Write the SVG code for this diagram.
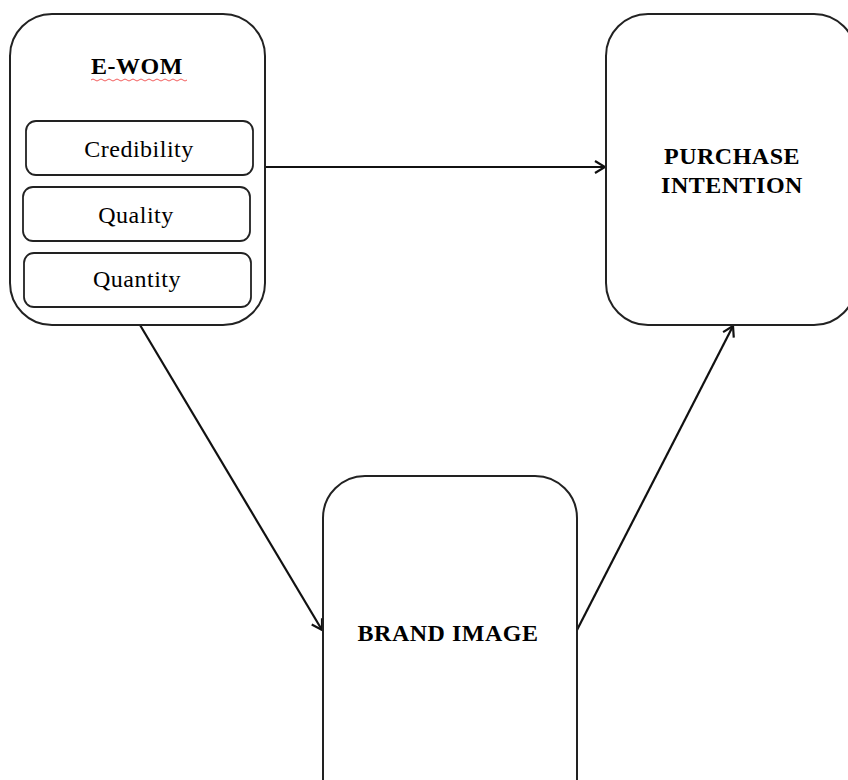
<svg xmlns="http://www.w3.org/2000/svg" width="848" height="780" viewBox="0 0 848 780">
<style>
.box{fill:#fff;stroke:#222;stroke-width:2}
.sub{fill:#fff;stroke:#222;stroke-width:1.8}
.t{font-family:"Liberation Serif","Times New Roman",serif;fill:#000;text-anchor:middle}
.b{font-weight:bold;font-size:24px;letter-spacing:0.5px}
.s{font-size:24px;letter-spacing:0.5px}
.c{stroke:#111;stroke-width:2.2;fill:none}
</style>
<defs>
<marker id="ah" markerWidth="14" markerHeight="14" refX="12" refY="7" orient="auto" markerUnits="userSpaceOnUse">
<polyline points="2,1 12,7 2,13" fill="none" stroke="#111" stroke-width="2.2"/>
</marker>
</defs>
<rect width="848" height="780" fill="#fff"/>
<g id="connectors">
<line class="c" x1="265" y1="167" x2="605" y2="167" marker-end="url(#ah)"/>
<line class="c" x1="140" y1="325" x2="322" y2="630" marker-end="url(#ah)"/>
<line class="c" x1="577" y1="630" x2="733" y2="326" marker-end="url(#ah)"/>
</g>
<g id="ewom">
<rect class="box" x="10" y="14" width="255" height="311" rx="42"/>
<text class="t b" x="137" y="74">E-WOM</text>
<path d="M91 80 q2 -2 4 0 t4 0 t4 0 t4 0 t4 0 t4 0 t4 0 t4 0 t4 0 t4 0 t4 0 t4 0 t4 0 t4 0 t4 0 t4 0 t4 0 t4 0 t4 0 t4 0 t4 0 t4 0 t4 0 t4 0" fill="none" stroke="#e33" stroke-width="0.8"/>
<g id="credibility">
<rect class="sub" x="26" y="121" width="227" height="54" rx="10"/>
<text class="t s" x="139" y="157">Credibility</text>
</g>
<g id="quality">
<rect class="sub" x="23" y="187" width="227" height="54" rx="10"/>
<text class="t s" x="136" y="223">Quality</text>
</g>
<g id="quantity">
<rect class="sub" x="24" y="253" width="227" height="54" rx="10"/>
<text class="t s" x="137" y="287">Quantity</text>
</g>
</g>
<g id="purchase">
<rect class="box" x="606" y="14" width="250" height="311" rx="42"/>
<text class="t b" x="732" y="164">PURCHASE</text>
<text class="t b" x="732" y="193">INTENTION</text>
</g>
<g id="brand">
<rect class="box" x="323" y="476" width="254" height="350" rx="42"/>
<text class="t b" x="448" y="641">BRAND IMAGE</text>
</g>
</svg>
